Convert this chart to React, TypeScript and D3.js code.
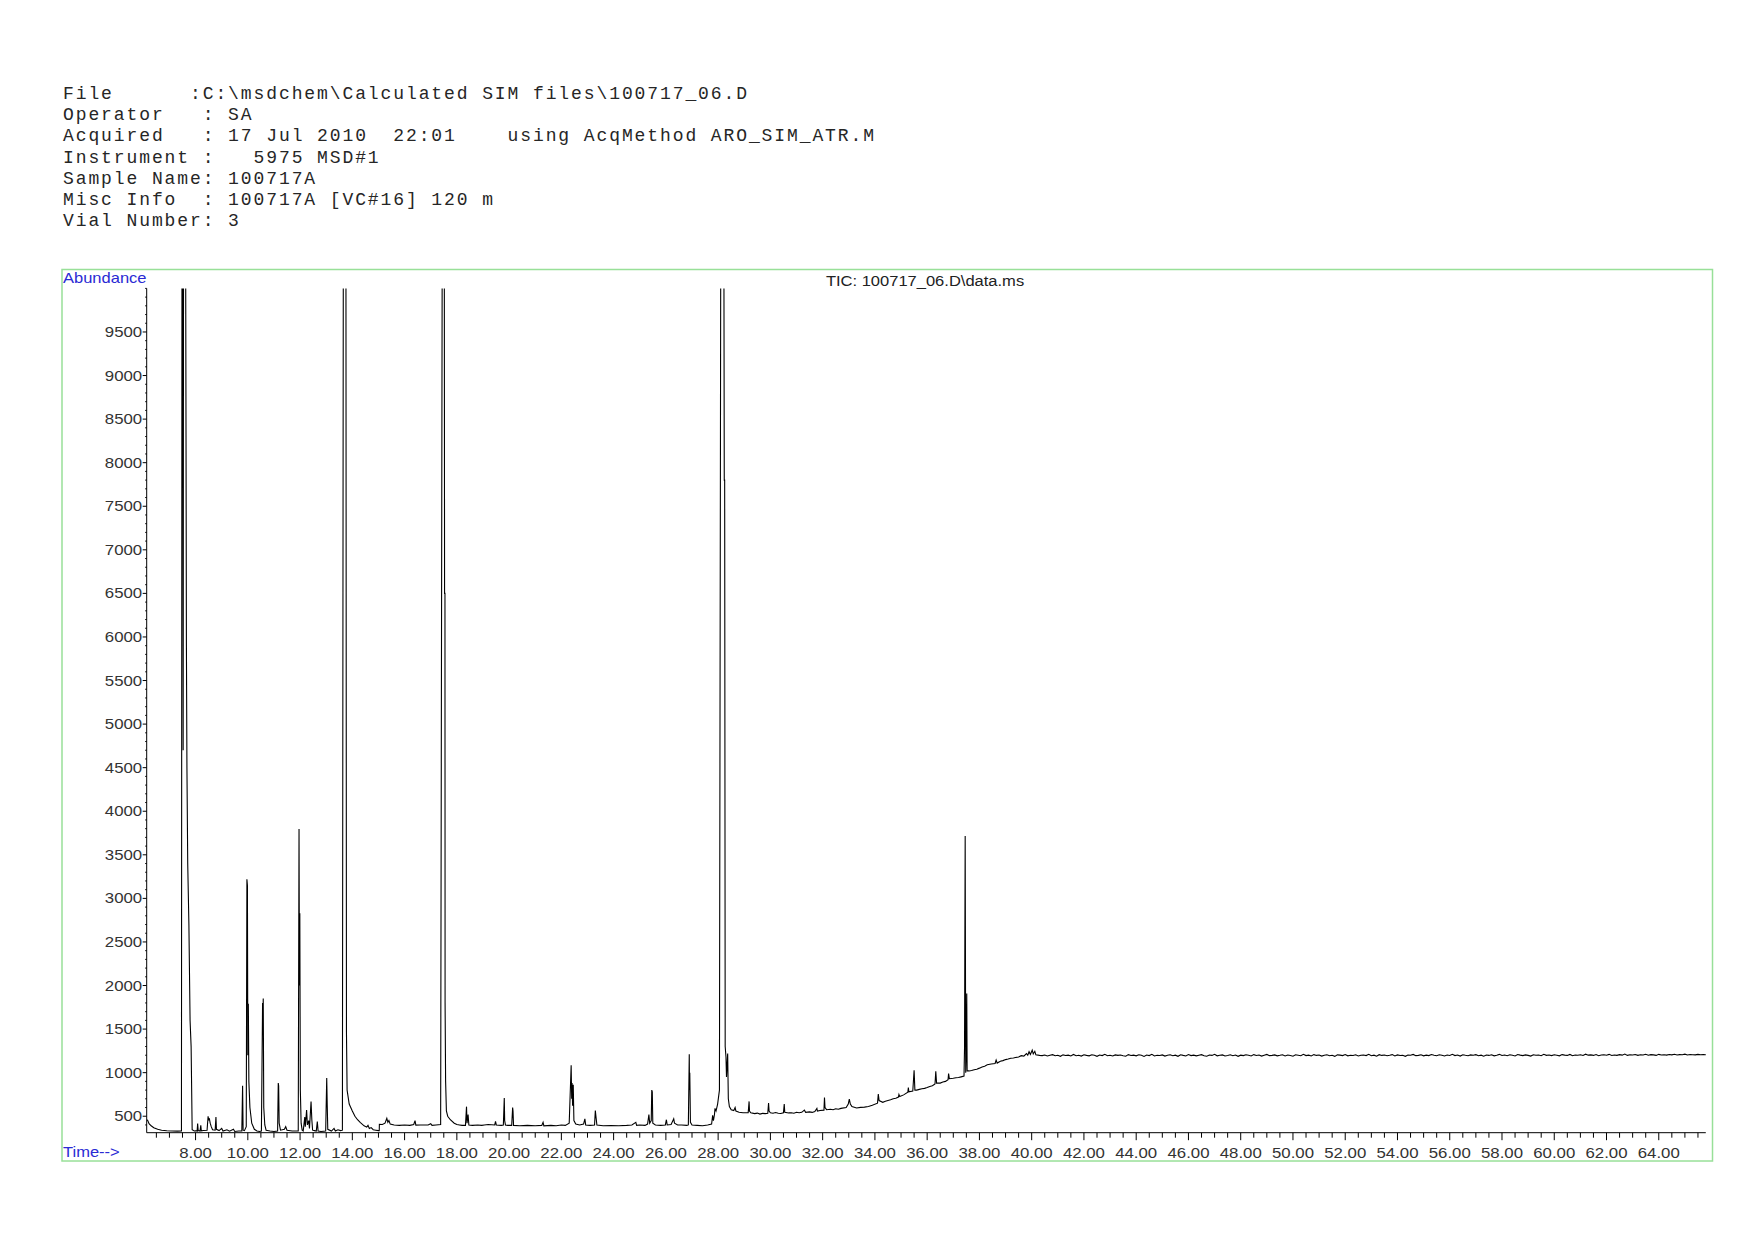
import React from 'react';
import * as d3 from 'd3';

// ---------- text content ----------
const headerLines = [
  'File      :C:\\msdchem\\Calculated SIM files\\100717_06.D',
  'Operator   : SA',
  'Acquired   : 17 Jul 2010  22:01    using AcqMethod ARO_SIM_ATR.M',
  'Instrument :   5975 MSD#1',
  'Sample Name: 100717A',
  'Misc Info  : 100717A [VC#16] 120 m',
  'Vial Number: 3',
];
const chartTitle = 'TIC: 100717_06.D\\data.ms';
const yAxisTitle = 'Abundance';
const xAxisTitle = 'Time-->';

// ---------- axes ----------
const timeDomain = [6.13, 65.8];
const abundanceDomain = [311, 10000];
const yTickLabels = [500, 1000, 1500, 2000, 2500, 3000, 3500, 4000, 4500, 5000, 5500, 6000, 6500, 7000, 7500, 8000, 8500, 9000, 9500];
const xTickLabels = [8, 10, 12, 14, 16, 18, 20, 22, 24, 26, 28, 30, 32, 34, 36, 38, 40, 42, 44, 46, 48, 50, 52, 54, 56, 58, 60, 62, 64];

// ---------- TIC trace (time min, abundance) ----------
const traceEarly: [number, number][] = [
  [6.13, 462], [6.17, 450], [6.22, 415], [6.3, 390], [6.4, 368], [6.55, 350], [6.7, 340], [6.9, 334], [7.1, 331], [7.3, 329], [7.46, 330],
  [7.48, 10500], [7.51, 10500], [7.525, 4700], [7.54, 10500], [7.62, 10500], [7.635, 8300], [7.65, 5900], [7.67, 4500], [7.7, 3400], [7.745, 2700], [7.79, 1600], [7.83, 1300], [7.87, 345],
  [7.95, 330], [8.04, 334], [8.06, 330], [8.08, 417], [8.1, 335], [8.17, 330], [8.2, 395], [8.22, 332], [8.3, 336], [8.44, 340], [8.48, 500], [8.5, 460], [8.53, 470], [8.56, 420], [8.6, 380], [8.65, 345],
  [8.75, 340], [8.78, 490], [8.8, 350], [8.9, 335], [9.0, 360], [9.05, 330], [9.2, 345], [9.3, 328], [9.45, 350], [9.5, 325], [9.65, 330], [9.77, 330], [9.8, 850], [9.82, 340], [9.87, 335],
  [9.94, 380], [9.965, 3220], [9.985, 3150], [10.0, 1200], [10.02, 1790], [10.04, 900], [10.08, 600], [10.15, 420], [10.25, 350], [10.35, 330], [10.45, 325],
  [10.52, 330], [10.565, 1800], [10.575, 1500], [10.59, 1850], [10.61, 600], [10.65, 400], [10.7, 340], [10.85, 330], [11.0, 325],
  [11.14, 330], [11.165, 880], [11.18, 850], [11.2, 420], [11.25, 340], [11.4, 350], [11.45, 380], [11.5, 340], [11.7, 330],
  [11.93, 330], [11.96, 3795], [11.975, 2000], [11.99, 2830], [12.01, 800], [12.04, 420], [12.08, 340],
  [12.12, 330], [12.18, 490], [12.2, 380], [12.25, 570], [12.28, 400], [12.33, 450], [12.36, 360], [12.42, 670], [12.45, 460], [12.48, 340], [12.55, 335], [12.62, 330], [12.66, 440], [12.69, 330], [12.8, 325],
  [12.98, 330], [13.02, 940], [13.04, 620], [13.06, 350], [13.2, 330], [13.3, 360], [13.35, 330], [13.45, 345], [13.55, 335], [13.62, 340],
  [13.655, 10500], [13.755, 10500], [13.775, 1470], [13.8, 800], [13.88, 640], [14.0, 560], [14.1, 500], [14.2, 460], [14.3, 430], [14.45, 390], [14.55, 375], [14.6, 395], [14.65, 360], [14.72, 370], [14.8, 345], [14.9, 340], [15.0, 335], [15.03, 335],
];

const traceMiddle: [number, number][] = [
  [15.035, 408], [15.15, 405], [15.25, 420], [15.32, 475], [15.36, 430], [15.4, 450], [15.45, 410], [15.6, 400], [15.8, 395], [16.0, 400], [16.2, 395], [16.35, 405], [16.4, 450], [16.43, 398], [16.6, 400], [16.9, 400], [17.0, 415], [17.05, 395], [17.2, 400], [17.38, 405],
  [17.44, 10500], [17.52, 10500], [17.53, 6500], [17.545, 6500], [17.55, 1800], [17.57, 900], [17.6, 560], [17.65, 500], [17.75, 460], [17.9, 420], [18.0, 405], [18.1, 400], [18.2, 395],
  [18.33, 395], [18.37, 610], [18.39, 420], [18.43, 520], [18.46, 400], [18.6, 395], [18.8, 400], [18.95, 395], [19.05, 400], [19.2, 405], [19.45, 400], [19.48, 440], [19.51, 400], [19.7, 395],
  [19.78, 400], [19.815, 710], [19.83, 450], [19.86, 400], [19.95, 395], [20.1, 395], [20.135, 600], [20.15, 560], [20.17, 395], [20.4, 390], [20.7, 395], [21.0, 390], [21.25, 395], [21.3, 430], [21.33, 390], [21.6, 395], [21.8, 390], [22.0, 400], [22.15, 395],
  [22.3, 420], [22.375, 1086], [22.395, 700], [22.41, 880], [22.43, 620], [22.455, 860], [22.48, 450], [22.55, 410], [22.7, 400], [22.85, 410], [22.9, 470], [22.93, 400], [23.1, 395], [23.27, 400], [23.3, 565], [23.33, 480], [23.36, 400],
  [23.6, 390], [23.9, 392], [24.2, 390], [24.5, 395], [24.7, 400], [24.85, 430], [24.88, 395], [25.0, 400], [25.2, 395], [25.3, 410], [25.35, 520], [25.38, 420], [25.44, 450], [25.46, 800], [25.48, 780], [25.5, 420], [25.6, 400], [25.8, 395],
  [25.98, 400], [26.02, 460], [26.05, 400], [26.2, 405], [26.3, 470], [26.33, 420], [26.45, 400], [26.6, 400], [26.8, 395], [26.86, 400], [26.895, 1212], [26.905, 800], [26.915, 1000], [26.94, 430], [27.0, 400], [27.2, 395], [27.4, 390], [27.6, 400],
  [27.75, 410], [27.79, 510], [27.82, 450], [27.86, 520], [27.88, 590], [27.92, 560], [27.98, 640], [28.05, 800],
];

const traceLate: [number, number][] = [
  [28.1, 10500], [28.22, 10500], [28.235, 7800], [28.25, 7800], [28.27, 1300], [28.3, 1180], [28.32, 950], [28.365, 1220], [28.39, 700], [28.43, 610], [28.5, 575], [28.6, 565], [28.65, 600], [28.68, 560], [28.8, 545], [28.95, 540],
  [29.15, 540], [29.185, 670], [29.2, 560], [29.25, 540], [29.4, 530], [29.5, 536], [29.6, 525], [29.7, 533], [29.8, 530], [29.9, 535], [29.93, 650], [29.95, 560], [30.0, 540], [30.1, 535], [30.2, 543], [30.3, 535], [30.4, 531], [30.5, 540], [30.53, 640], [30.55, 545],
  [30.7, 538], [30.8, 540], [30.9, 534], [31.0, 545], [31.1, 540], [31.2, 545], [31.3, 570], [31.35, 545], [31.5, 550], [31.6, 544], [31.7, 555], [31.78, 590], [31.8, 560], [31.9, 565], [32.05, 570], [32.07, 715], [32.09, 600], [32.15, 575], [32.3, 580], [32.4, 574], [32.5, 585], [32.6, 580], [32.7, 590], [32.9, 600], [32.98, 640], [33.02, 695], [33.06, 640], [33.12, 610],
  [33.3, 595], [33.45, 602], [33.6, 605], [33.75, 612], [33.9, 625], [34.1, 650], [34.13, 755], [34.16, 680], [34.3, 660], [34.4, 672], [34.5, 680], [34.6, 688], [34.7, 700], [34.8, 706], [34.9, 720], [34.92, 750], [34.95, 725], [35.1, 745], [35.26, 775], [35.28, 830], [35.3, 780], [35.45, 790], [35.5, 1028], [35.53, 800],
  [35.6, 800], [35.7, 808], [35.8, 815], [35.9, 820], [36.0, 830], [36.1, 842], [36.2, 850], [36.3, 870], [36.33, 1017], [36.36, 880], [36.5, 880], [36.6, 892], [36.7, 900], [36.8, 920], [36.82, 990], [36.85, 930], [37.0, 935], [37.1, 942], [37.2, 945], [37.3, 952], [37.41, 960],
  [37.43, 1280], [37.455, 3715], [37.475, 1000], [37.5, 1300], [37.515, 1909], [37.53, 1020], [37.6, 1020], [37.7, 1025], [37.8, 1034], [37.9, 1040], [38.0, 1052], [38.1, 1066], [38.2, 1074], [38.3, 1090], [38.45, 1100], [38.6, 1105], [38.64, 1145], [38.68, 1110], [38.8, 1130],
  [38.9, 1138], [39.0, 1150], [39.1, 1156], [39.2, 1165], [39.3, 1168], [39.38, 1173], [39.5, 1180], [39.6, 1195], [39.7, 1190], [39.8, 1220], [39.85, 1200], [39.9, 1240], [39.95, 1210], [40.02, 1258], [40.06, 1215], [40.12, 1245], [40.16, 1205], [40.3, 1198],
];

// plateau after 40.4 min, one reading every 0.1 min
const plateauStart = 40.4;
const plateauStep = 0.1;
const plateauValues = [
  1196, 1203, 1191, 1200, 1207, 1194, 1199, 1188, 1204, 1197, 1201, 1192, 1209, 1195, 1200,
  1190, 1205, 1198, 1193, 1206, 1199, 1187, 1202, 1196, 1210, 1194, 1200, 1191, 1204, 1198,
  1203, 1195, 1189, 1207, 1197, 1201, 1193, 1205, 1199, 1186, 1203, 1196, 1211, 1192, 1200,
  1197, 1204, 1190, 1199, 1206, 1194, 1201, 1188, 1205, 1198, 1192, 1208, 1196, 1201, 1193,
  1200, 1207, 1195, 1189, 1203, 1198, 1210, 1193, 1199, 1204, 1191, 1197, 1206, 1194, 1202,
  1188, 1201, 1196, 1205, 1199, 1192, 1207, 1197, 1203, 1190, 1200, 1209, 1195, 1198, 1204,
  1193, 1199, 1206, 1191, 1202, 1197, 1188, 1205, 1200, 1195, 1211, 1196, 1201, 1192, 1207,
  1198, 1203, 1190, 1200, 1206, 1194, 1199, 1187, 1204, 1201, 1196, 1208, 1193, 1200, 1197,
  1205, 1191, 1199, 1203, 1196, 1210, 1194, 1201, 1189, 1206, 1198, 1202, 1195, 1200, 1207,
  1192, 1204, 1197, 1199, 1188, 1203, 1200, 1209, 1195, 1198, 1205, 1193, 1201, 1196, 1208,
  1199, 1194, 1206, 1200, 1191, 1203, 1197, 1211, 1196, 1202, 1190, 1205, 1199, 1194, 1204,
  1200, 1207, 1195, 1201, 1189, 1203, 1198, 1206, 1193, 1200, 1210, 1197, 1202, 1195, 1205,
  1199, 1192, 1208, 1201, 1196, 1204, 1198, 1190, 1206, 1200, 1203, 1195, 1211, 1199, 1202,
  1196, 1205, 1200, 1193, 1207, 1201, 1198, 1209, 1194, 1203, 1200, 1206, 1197, 1212, 1201,
  1204, 1198, 1208, 1195, 1202, 1206, 1200, 1210, 1197, 1203, 1199, 1207, 1201, 1213, 1198,
  1205, 1202, 1209, 1199, 1206, 1203, 1211, 1200, 1207, 1204, 1198, 1210, 1203, 1206, 1201,
  1208, 1204, 1211, 1202, 1207, 1205, 1212, 1203, 1209, 1206, 1204, 1210, 1205, 1208, 1206,
];

// ---------- layout ----------
const W = 1754;
const H = 1240;
const plot = { left: 146.7, right: 1705.8, top: 288.4, bottom: 1132.7 };
const frame = { left: 62, top: 269.5, right: 1712.5, bottom: 1161 };
const sansFont = '"Liberation Sans", Arial, sans-serif';
const monoFont = '"Liberation Mono", "Courier New", monospace';
const blue = '#2a2ad4';
const labelGray = '#333333';
const stretch = 1.18;

export default function App() {
  const x = d3.scaleLinear().domain(timeDomain).range([plot.left, plot.right]);
  const y = d3.scaleLinear().domain(abundanceDomain).range([plot.bottom, plot.top]);

  const plateau: [number, number][] = plateauValues.map((v, i) => [plateauStart + i * plateauStep, v]);
  const trace = [...traceEarly, ...traceMiddle, ...traceLate, ...plateau];
  const line = d3.line<[number, number]>().x((d) => x(d[0])).y((d) => y(d[1]));
  const path = line(trace) || '';

  const minorY = d3.range(400, 10001, 100).filter((v) => v % 500 !== 0 || v === 10000);
  const minorX = d3.range(6.5, 65.8, 0.5).filter((t) => Math.abs(t / 2 - Math.round(t / 2)) > 1e-6);

  return (
    <svg width={W} height={H} style={{ position: 'absolute', left: 0, top: 0, background: '#fff' }}>
      <defs>
        <clipPath id="plotClip">
          <rect x={plot.left} y={plot.top} width={plot.right - plot.left + 2} height={plot.bottom - plot.top} />
        </clipPath>
      </defs>
      <rect x={0} y={0} width={W} height={H} fill="#fff" />

      {/* header */}
      {headerLines.map((t, i) => (
        <text
          key={i}
          x={63}
          y={99.2 + i * 21.1}
          fontFamily={monoFont}
          fontSize={18}
          letterSpacing={1.9}
          fill="#262626"
          style={{ whiteSpace: 'pre' }}
        >
          {t}
        </text>
      ))}

      {/* frame */}
      <rect
        x={frame.left}
        y={frame.top}
        width={frame.right - frame.left}
        height={frame.bottom - frame.top}
        fill="none"
        stroke="#98e098"
        strokeWidth={1.5}
      />

      <text transform={`translate(63,283) scale(${stretch},1)`} fontFamily={sansFont} fontSize={14} fill={blue}>
        {yAxisTitle}
      </text>
      <text transform={`translate(925,286) scale(1.14,1)`} textAnchor="middle" fontFamily={sansFont} fontSize={14.5} fill="#222">
        {chartTitle}
      </text>
      <text transform={`translate(63,1157) scale(${stretch},1)`} fontFamily={sansFont} fontSize={14} fill={blue}>
        {xAxisTitle}
      </text>

      {/* y axis */}
      <line x1={plot.left} x2={plot.left} y1={plot.top} y2={plot.bottom} stroke="#000" strokeWidth={1} />
      {minorY.map((v) => (
        <line key={'my' + v} x1={plot.left - 1.5} x2={plot.left} y1={y(v)} y2={y(v)} stroke="#000" strokeWidth={1} />
      ))}
      {yTickLabels.map((v) => (
        <g key={'y' + v}>
          <line x1={plot.left - 4} x2={plot.left} y1={y(v)} y2={y(v)} stroke="#000" strokeWidth={1} />
          <text
            transform={`translate(${plot.left - 4.5},${y(v) + 5}) scale(1.2,1)`}
            textAnchor="end"
            fontFamily={sansFont}
            fontSize={14}
            fill={labelGray}
          >
            {v}
          </text>
        </g>
      ))}

      {/* x axis */}
      <line x1={plot.left} x2={plot.right} y1={plot.bottom} y2={plot.bottom} stroke="#000" strokeWidth={1} />
      {minorX.map((t) => (
        <line key={'mx' + t} x1={x(t)} x2={x(t)} y1={plot.bottom} y2={plot.bottom + 5} stroke="#000" strokeWidth={1} />
      ))}
      {xTickLabels.map((t) => (
        <g key={'x' + t}>
          <line x1={x(t)} x2={x(t)} y1={plot.bottom} y2={plot.bottom + 7.5} stroke="#000" strokeWidth={1} />
          <text
            transform={`translate(${x(t)},1157.5) scale(1.2,1)`}
            textAnchor="middle"
            fontFamily={sansFont}
            fontSize={14}
            fill={labelGray}
          >
            {t.toFixed(2)}
          </text>
        </g>
      ))}

      {/* trace */}
      <g clipPath="url(#plotClip)">
        <path d={path} fill="none" stroke="#000" strokeWidth={1.1} strokeLinejoin="miter" />
      </g>
    </svg>
  );
}
